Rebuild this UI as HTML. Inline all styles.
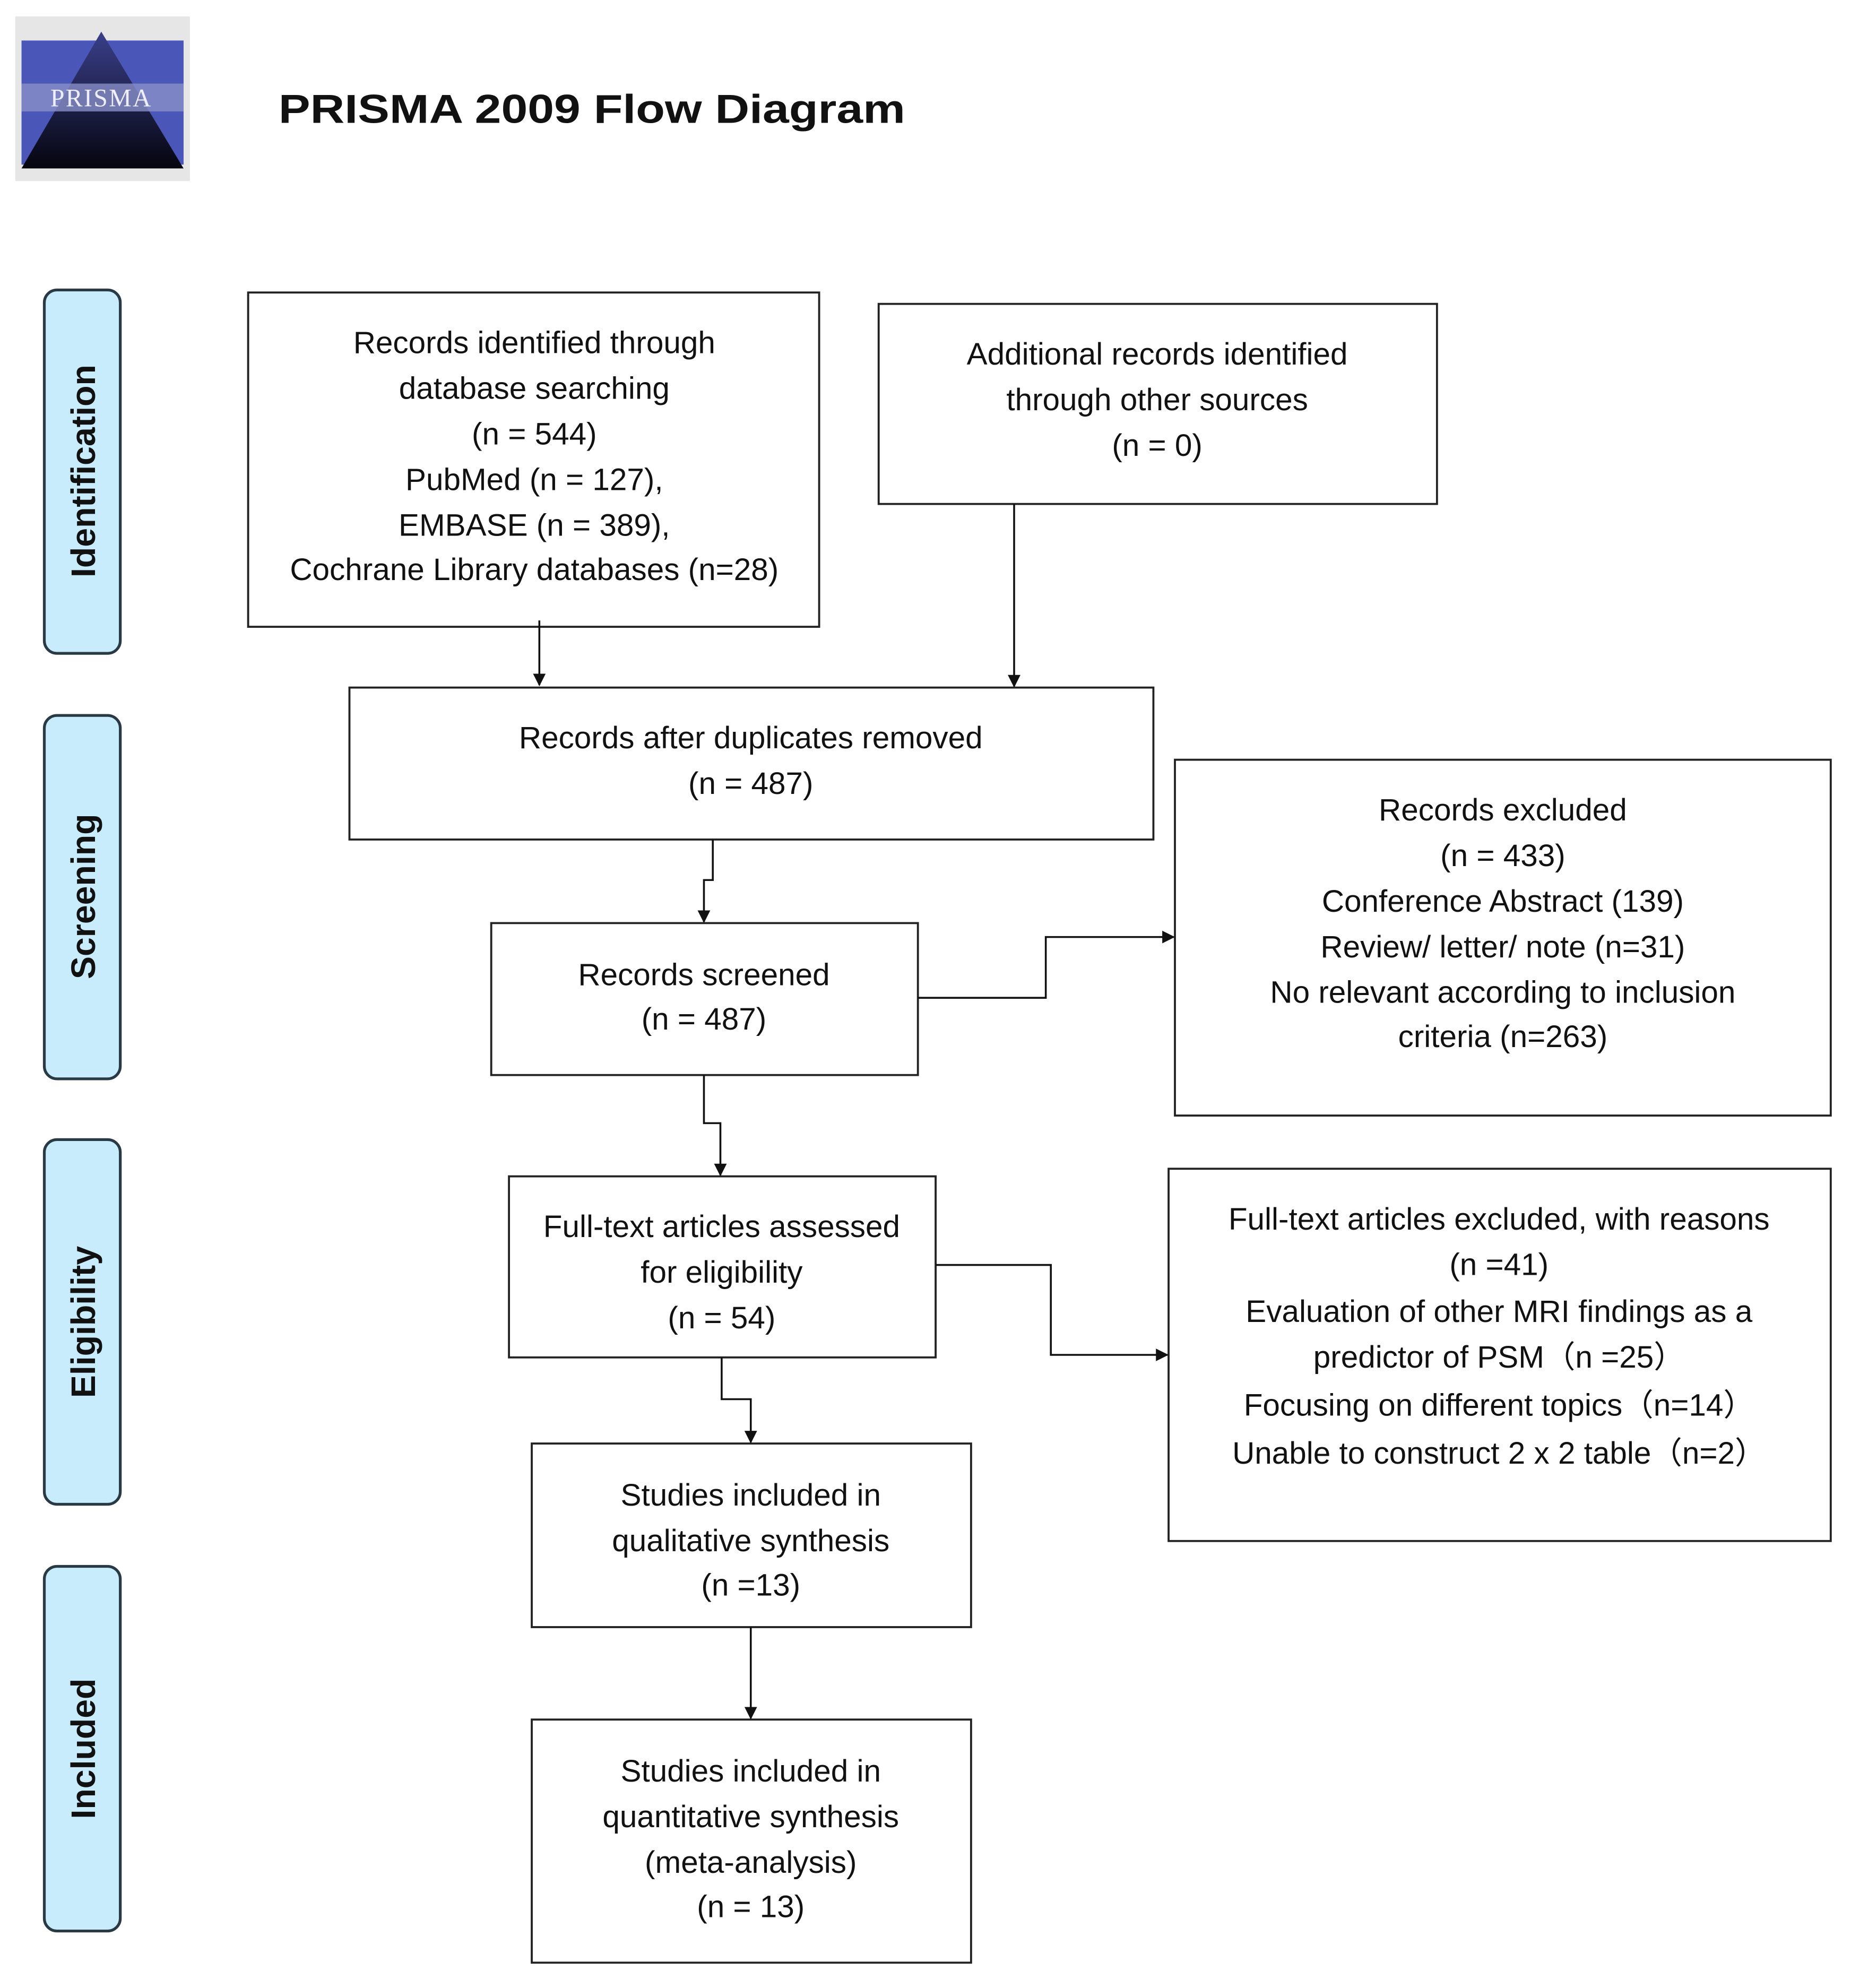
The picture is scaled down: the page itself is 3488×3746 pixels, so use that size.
<!DOCTYPE html>
<html><head><meta charset="utf-8"><style>
html,body{margin:0;padding:0;background:#fff;}
svg{display:block;}
text{font-family:"Liberation Sans",sans-serif;fill:#111;}
.t{font-size:24.5px;text-anchor:middle;}
.s{font-size:27px;font-weight:bold;text-anchor:middle;}
.b{fill:#fff;stroke:#222;stroke-width:1.6;}
.l{fill:none;stroke:#111;stroke-width:1.5;}
.side{fill:#c8ecfb;stroke:#2a3a44;stroke-width:2.2;}
</style></head><body>
<svg width="3488" height="3746" viewBox="0 0 1462 1570" preserveAspectRatio="none" xmlns="http://www.w3.org/2000/svg">
<defs>
<marker id="a" markerWidth="10" markerHeight="10" refX="9" refY="5" orient="auto" markerUnits="userSpaceOnUse">
<path d="M0,0 L10,5 L0,10 z" fill="#111"/></marker>
<linearGradient id="tri" x1="0" y1="0" x2="0" y2="1"><stop offset="0" stop-color="#3a3f8a"/><stop offset="1" stop-color="#05050f"/></linearGradient>
</defs>
<rect width="1462" height="1570" fill="#fff"/>
<rect x="12" y="13" width="138" height="130" fill="#e6e6e6"/>
<rect x="17" y="32" width="128" height="98" fill="#4a56b8"/>
<polygon points="80,25 145,133 17,133" fill="url(#tri)"/>
<rect x="17" y="66" width="128" height="22" fill="#8890c8" opacity="0.8"/>
<text x="80" y="84" style="font-family:'Liberation Serif',serif;font-size:20px;fill:#eef;text-anchor:middle;letter-spacing:1px">PRISMA</text>
<text x="220" y="97" textLength="495" lengthAdjust="spacingAndGlyphs" style="font-size:32px;font-weight:bold">PRISMA 2009 Flow Diagram</text>
<rect class="side" x="35" y="229" width="60" height="287" rx="10"/>
<text class="s" transform="translate(75,372) rotate(-90)">Identification</text>
<rect class="side" x="35" y="565" width="60" height="287" rx="10"/>
<text class="s" transform="translate(75,708) rotate(-90)">Screening</text>
<rect class="side" x="35" y="900" width="60" height="288" rx="10"/>
<text class="s" transform="translate(75,1044) rotate(-90)">Eligibility</text>
<rect class="side" x="35" y="1237" width="60" height="288" rx="10"/>
<text class="s" transform="translate(75,1381) rotate(-90)">Included</text>

<rect class="b" x="196" y="231" width="451" height="264"/>
<text class="t" x="422" y="279">Records identified through</text>
<text class="t" x="422" y="315">database searching</text>
<text class="t" x="422" y="351">(n = 544)</text>
<text class="t" x="422" y="387">PubMed (n = 127),</text>
<text class="t" x="422" y="423">EMBASE (n = 389),</text>
<text class="t" x="422" y="458">Cochrane Library databases (n=28)</text>

<rect class="b" x="694" y="240" width="441" height="158"/>
<text class="t" x="914" y="288">Additional records identified</text>
<text class="t" x="914" y="324">through other sources</text>
<text class="t" x="914" y="360">(n = 0)</text>

<rect class="b" x="276" y="543" width="635" height="120"/>
<text class="t" x="593" y="591">Records after duplicates removed</text>
<text class="t" x="593" y="627">(n = 487)</text>

<rect class="b" x="928" y="600" width="518" height="281"/>
<text class="t" x="1187" y="648">Records excluded</text>
<text class="t" x="1187" y="684">(n = 433)</text>
<text class="t" x="1187" y="720">Conference Abstract (139)</text>
<text class="t" x="1187" y="756">Review/ letter/ note (n=31)</text>
<text class="t" x="1187" y="792">No relevant according to inclusion</text>
<text class="t" x="1187" y="827">criteria (n=263)</text>

<rect class="b" x="388" y="729" width="337" height="120"/>
<text class="t" x="556" y="778">Records screened</text>
<text class="t" x="556" y="813">(n = 487)</text>

<rect class="b" x="402" y="929" width="337" height="143"/>
<text class="t" x="570" y="977">Full-text articles assessed</text>
<text class="t" x="570" y="1013">for eligibility</text>
<text class="t" x="570" y="1049">(n = 54)</text>

<rect class="b" x="923" y="923" width="523" height="294"/>
<text class="t" x="1184" y="971">Full-text articles excluded, with reasons</text>
<text class="t" x="1184" y="1007">(n =41)</text>
<text class="t" x="1184" y="1044">Evaluation of other MRI findings as a</text>
<text class="t" x="1184" y="1080">predictor of PSM（n =25）</text>
<text class="t" x="1184" y="1118">Focusing on different topics（n=14）</text>
<text class="t" x="1184" y="1156">Unable to construct 2 x 2 table（n=2）</text>

<rect class="b" x="420" y="1140" width="347" height="145"/>
<text class="t" x="593" y="1189">Studies included in</text>
<text class="t" x="593" y="1225">qualitative synthesis</text>
<text class="t" x="593" y="1260">(n =13)</text>

<rect class="b" x="420" y="1358" width="347" height="192"/>
<text class="t" x="593" y="1407">Studies included in</text>
<text class="t" x="593" y="1443">quantitative synthesis</text>
<text class="t" x="593" y="1479">(meta-analysis)</text>
<text class="t" x="593" y="1514">(n = 13)</text>

<path class="l" d="M426,490 L426,541" marker-end="url(#a)"/>
<path class="l" d="M801,398 L801,542" marker-end="url(#a)"/>
<path class="l" d="M563,663 L563,695 L556,695 L556,728" marker-end="url(#a)"/>
<path class="l" d="M725,788 L826,788 L826,740 L927,740" marker-end="url(#a)"/>
<path class="l" d="M556,849 L556,887 L569,887 L569,928" marker-end="url(#a)"/>
<path class="l" d="M739,999 L830,999 L830,1070 L922,1070" marker-end="url(#a)"/>
<path class="l" d="M570,1072 L570,1105 L593,1105 L593,1139" marker-end="url(#a)"/>
<path class="l" d="M593,1285 L593,1357" marker-end="url(#a)"/>
</svg>
</body></html>
